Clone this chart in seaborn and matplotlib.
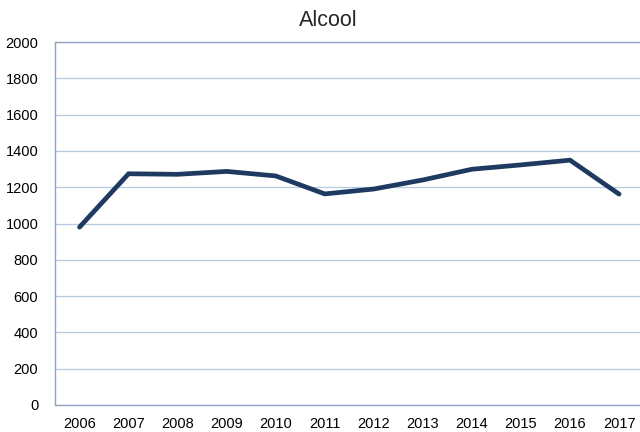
import pandas as pd
import seaborn as sns
from matplotlib import pyplot as plt

years = ["2006", "2007", "2008", "2009", "2010", "2011",
         "2012", "2013", "2014", "2015", "2016", "2017"]
alcool = [980, 1274, 1271, 1287, 1262, 1163, 1190, 1240, 1299, 1323, 1349, 1162]
y_ticks = [0, 200, 400, 600, 800, 1000, 1200, 1400, 1600, 1800, 2000]

df = pd.DataFrame({"year": years, "value": alcool})

sns.set_style("white")
plt.rcParams["font.family"] = ["Liberation Sans", "DejaVu Sans"]

fig = plt.figure(figsize=(6.4, 4.32), dpi=100)
# plot area runs past the right edge, like the cropped original
ax = fig.add_axes([55 / 640, 27 / 432, 588.6 / 640, 363 / 432])

sns.lineplot(data=df, x="year", y="value", ax=ax, color="#1f3a60",
             linewidth=3.4, solid_capstyle="round", solid_joinstyle="miter")

ax.set_xlim(-0.5, 11.5)
ax.set_ylim(0, 2000)
ax.set_yticks(y_ticks)
ax.set_xlabel("")
ax.set_ylabel("")

ax.grid(axis="y", color="#b7cae3", linewidth=0.9)
ax.set_axisbelow(True)
for side in ["left", "bottom", "top", "right"]:
    ax.spines[side].set_color("#8fa4bd")
    ax.spines[side].set_linewidth(1.0)

ax.tick_params(axis="both", length=0, labelsize=10.5, colors="black")
ax.tick_params(axis="y", pad=12)
ax.tick_params(axis="x", pad=9)

fig.text(328 / 640, 1 - 21 / 432, "Alcool", ha="center", va="center", fontsize=15.5)

plt.savefig("out.png", dpi=100)
